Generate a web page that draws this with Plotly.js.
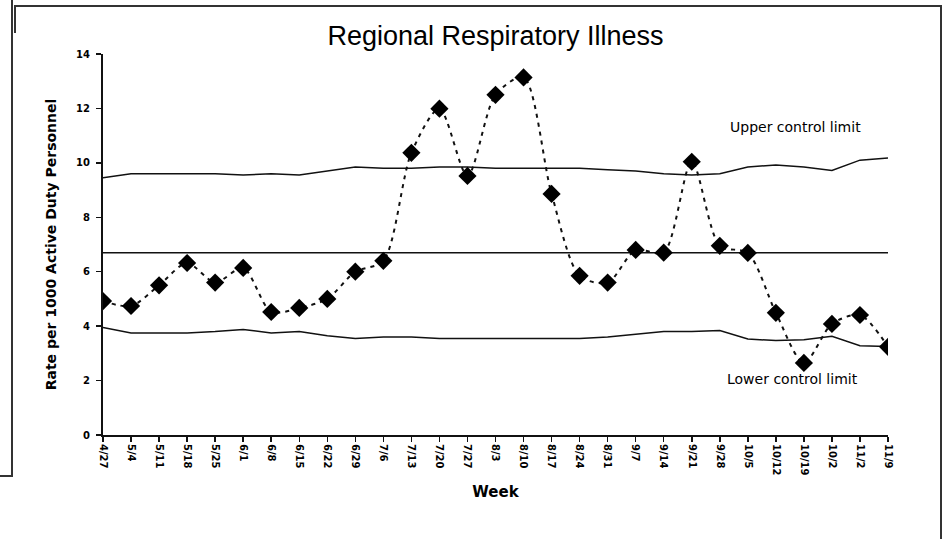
<!DOCTYPE html>
<html>
<head>
<meta charset="utf-8">
<script src="https://cdn.plot.ly/plotly-3.0.1.min.js"></script>
<style>
  html, body { margin: 0; padding: 0; background: #fff; }
  #wrap { position: relative; width: 945px; height: 539px; overflow: hidden; }
  #chart { position: absolute; left: 0; top: 0; width: 945px; height: 539px; }
  .fl { position: absolute; background: #333; z-index: 5; }
</style>
</head>
<body>
<div id="wrap">
  <div id="chart"></div>
  <div class="fl" style="left:11px; top:0; width:1.5px; height:477px;"></div>
  <div class="fl" style="left:0; top:475px; width:12px; height:1.5px;"></div>
  <div class="fl" style="left:14px; top:5px; width:927px; height:1.5px;"></div>
  <div class="fl" style="left:14px; top:5px; width:1.5px; height:28px;"></div>
  <div class="fl" style="left:940px; top:5px; width:1.5px; height:534px;"></div>
</div>
<script>
const weeks = ["4/27","5/4","5/11","5/18","5/25","6/1","6/8","6/15","6/22","6/29","7/6","7/13","7/20","7/27","8/3","8/10","8/17","8/24","8/31","9/7","9/14","9/21","9/28","10/5","10/12","10/19","10/2","11/2","11/9"];
const rate = [4.92,4.74,5.5,6.32,5.6,6.14,4.52,4.67,5.0,6.0,6.4,10.37,11.99,9.52,12.5,13.14,8.86,5.85,5.6,6.8,6.7,10.04,6.95,6.69,4.49,2.65,4.08,4.41,3.24];
const upperLimit = [9.45,9.6,9.6,9.6,9.6,9.55,9.6,9.55,9.7,9.85,9.8,9.8,9.85,9.85,9.8,9.8,9.8,9.8,9.75,9.7,9.6,9.55,9.6,9.85,9.92,9.85,9.72,10.1,10.18];
const lowerLimit = [3.95,3.75,3.75,3.75,3.8,3.88,3.75,3.8,3.65,3.55,3.6,3.6,3.55,3.55,3.55,3.55,3.55,3.55,3.6,3.7,3.8,3.8,3.84,3.53,3.47,3.5,3.63,3.28,3.25];
const centerLine = weeks.map(() => 6.7);
const yTicks = [0,2,4,6,8,10,12,14];

const idx = weeks.map((w, i) => i);

const traces = [
  { x: idx, y: upperLimit, mode: 'lines', line: {color: '#111', width: 1.5}, hoverinfo: 'skip', showlegend: false },
  { x: idx, y: lowerLimit, mode: 'lines', line: {color: '#111', width: 1.5}, hoverinfo: 'skip', showlegend: false },
  { x: idx, y: centerLine, mode: 'lines', line: {color: '#111', width: 1.5}, hoverinfo: 'skip', showlegend: false },
  { x: idx, y: rate, mode: 'lines+markers',
    line: {color: '#111', width: 2, dash: '4px,5px', shape: 'spline', smoothing: 0.8},
    marker: {symbol: 'diamond', size: 14, color: '#000'},
    showlegend: false }
];

const layout = {
  width: 945, height: 539,
  margin: {l: 103, r: 57, t: 54, b: 104},
  paper_bgcolor: '#fff', plot_bgcolor: '#fff',
  title: {text: 'Regional Respiratory Illness', x: 0.5, xref: 'paper', xanchor: 'center',
          y: 0.952, yref: 'container', yanchor: 'top',
          font: {family: 'Liberation Sans, Arial, sans-serif', size: 27, color: '#000'}},
  xaxis: {
    range: [0, 28], tickmode: 'array', tickvals: idx, ticktext: weeks,
    tickangle: 90, ticks: 'outside', ticklen: 5, tickwidth: 1.5, tickcolor: '#111',
    showline: true, linecolor: '#111', linewidth: 2, showgrid: false, zeroline: false,
    tickfont: {family: 'DejaVu Sans, sans-serif', size: 10, color: '#000', weight: 'bold'},
    title: {text: '<b>Week</b>', standoff: 12, font: {family: 'DejaVu Sans, sans-serif', size: 15, color: '#000'}},
    automargin: false, fixedrange: true
  },
  yaxis: {
    range: [0, 14], tickmode: 'array', tickvals: yTicks,
    ticks: 'outside', ticklen: 5, tickwidth: 1.5, tickcolor: '#111', ticklabelstandoff: 4,
    showline: true, linecolor: '#111', linewidth: 2, showgrid: false, zeroline: false,
    tickfont: {family: 'DejaVu Sans, sans-serif', size: 10, color: '#000', weight: 'bold'},
    title: {text: '<b>Rate per 1000 Active Duty Personnel</b>', standoff: 16, font: {family: 'DejaVu Sans, sans-serif', size: 14, color: '#000'}},
    automargin: false, fixedrange: true
  },
  annotations: [
    {x: 24.7, y: 11.32, xref: 'x', yref: 'y', text: 'Upper control limit', showarrow: false,
     font: {family: 'DejaVu Sans, sans-serif', size: 14, color: '#000'}},
    {x: 24.6, y: 2.06, xref: 'x', yref: 'y', text: 'Lower control limit', showarrow: false,
     font: {family: 'DejaVu Sans, sans-serif', size: 14, color: '#000'}}
  ]
};

Plotly.newPlot('chart', traces, layout, {displayModeBar: false, staticPlot: true});
</script>
</body>
</html>
